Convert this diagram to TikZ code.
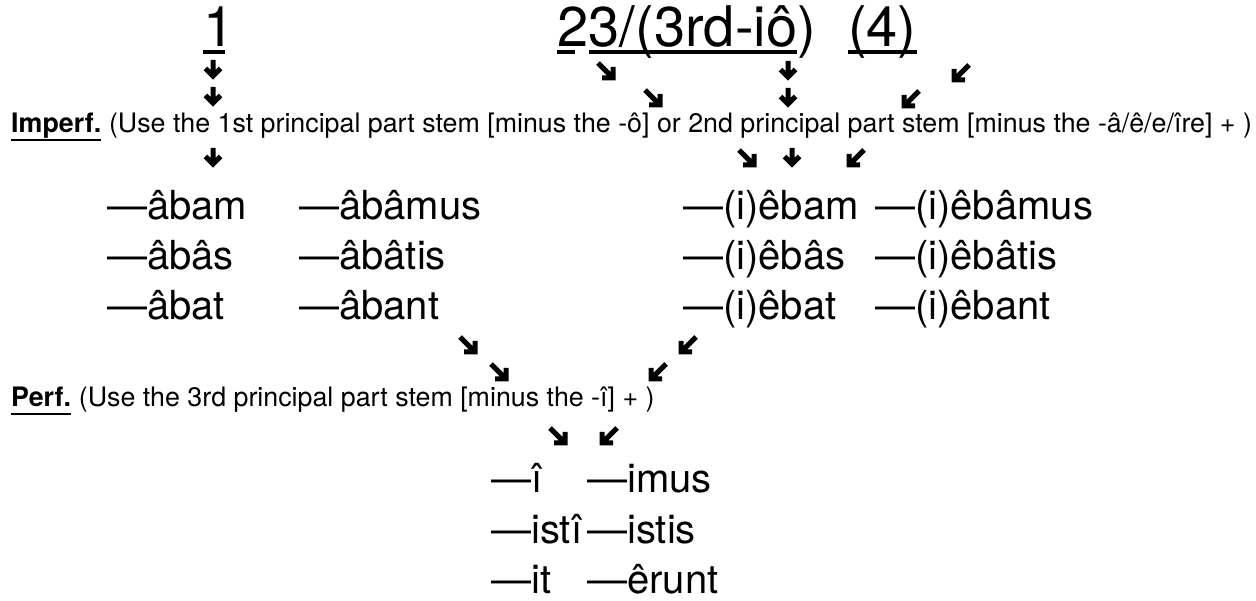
\documentclass[tikz,border=0pt]{standalone}
\usepackage{fontspec}
\setmainfont{TeX Gyre Heros}
\usetikzlibrary{positioning}
\tikzstyle{hbig}=[anchor=base west, inner sep=0pt, font=\fontsize{56}{62}\selectfont]
\tikzstyle{lnote}=[anchor=base west, inner sep=0pt, font=\fontsize{26.8}{32}\selectfont]
\tikzstyle{lbold}=[anchor=base west, inner sep=0pt, font=\fontsize{26.8}{32}\selectfont\bfseries]
\tikzstyle{lend}=[anchor=base west, inner sep=0pt, font=\fontsize{40}{46}\selectfont]
\tikzstyle{uln}=[line width=2.2pt, color=black]
\tikzstyle{huln}=[line width=3.5pt, color=black]
\tikzstyle{barrow}=[line width=5pt, miter limit=4, color=black]
\tikzset{
  pdn/.pic={\draw[style=barrow] (0,-10) -- (0,6) (-7.5,-1.5) -- (0,6) -- (7.5,-1.5);},
  pse/.pic={\draw[style=barrow] (-9,-9) -- (6,6) (6,-5) -- (6,6) -- (-5,6);},
  psw/.pic={\draw[style=barrow] (9,-9) -- (-6,6) (-6,-5) -- (-6,6) -- (5,6);}
}
\def\hbig{\node[style=hbig]}
\def\lnote{\node[style=lnote]}
\def\lbold{\node[style=lbold]}
\def\lend{\node[style=lend]}
\def\uln{\draw[style=uln]}
\def\huln{\draw[style=huln]}

\begin{document}
\begin{tikzpicture}[x=1pt, y=-1pt]
      \useasboundingbox (0,0) rectangle (1256,601);
      % principal parts
      \hbig (Hnode0) at (203,47)            {1};
      \hbig (Hnode1) at (557,47)            {2};
      \hbig (Hnode2) at (Hnode1.base east)  {3/(3rd-iô};
      \hbig (Hnode3) at (Hnode2.base east)  {)};
      \hbig (Hnode4) at (848,47)            {(4)};

      \huln ([yshift=-5pt]Hnode0.base west) -- ([yshift=-5pt,xshift=-10pt]Hnode0.base east);
      \huln ([yshift=-5pt]Hnode1.base west) -- ([yshift=-5pt,xshift=-14pt]Hnode1.base east);
      \huln ([yshift=-5pt]Hnode2.base west) -- ([yshift=-5pt]Hnode2.base east);
      \huln ([yshift=-5pt]Hnode4.base west) -- ([yshift=-5pt]Hnode4.base east);

      \pic (Anode0)  at (213,70)  {pdn};
      \pic (Anode1)  at (607,72)  {pse};
      \pic (Anode2)  at (788,71)  {pdn};
      \pic (Anode3)  at (960,74)  {psw};
      \pic (Anode4)  at (213,97)  {pdn};
      \pic (Anode5)  at (654,99)  {pse};
      \pic (Anode6)  at (788,98)  {pdn};
      \pic (Anode7)  at (910,100) {psw};
      % imperfect
      \lbold (Inode0) at (11,133)           {Imperf.};
      \lnote (Inode1) at (Inode0.base east) {\ (Use the 1st principal part stem [minus the -ô] or 2nd principal part stem [minus the -â/ê/e/îre] + )};
      \uln ([yshift=-7pt]Inode0.base west) -- ([yshift=-7pt]Inode0.base east);

      \pic (Anode8)  at (213,158) {pdn};
      \pic (Anode9)  at (748,159) {pse};
      \pic (Anode10) at (792,158) {pdn};
      \pic (Anode11) at (855,159) {psw};

      \lend (Enode0)  at (107,220) {—âbam};
      \lend (Enode1)  at (107,270) {—âbâs};
      \lend (Enode2)  at (107,320) {—âbat};
      \lend (Enode3)  at (299,220) {—âbâmus};
      \lend (Enode4)  at (299,270) {—âbâtis};
      \lend (Enode5)  at (299,320) {—âbant};
      \lend (Enode6)  at (683,220) {—(i)êbam};
      \lend (Enode7)  at (683,270) {—(i)êbâs};
      \lend (Enode8)  at (683,320) {—(i)êbat};
      \lend (Enode9)  at (875,220) {—(i)êbâmus};
      \lend (Enode10) at (875,270) {—(i)êbâtis};
      \lend (Enode11) at (875,320) {—(i)êbant};

      \pic (Anode12) at (469,346) {pse};
      \pic (Anode13) at (500,373) {pse};
      \pic (Anode14) at (687,346) {psw};
      \pic (Anode15) at (657,373) {psw};
      % perfect
      \lbold (Pnode0) at (11,407)           {Perf.};
      \lnote (Pnode1) at (Pnode0.base east) {\ (Use the 3rd principal part stem [minus the -î] + )};
      \uln ([yshift=-7pt]Pnode0.base west) -- ([yshift=-7pt]Pnode0.base east);

      \pic (Anode16) at (559,437) {pse};
      \pic (Anode17) at (608,437) {psw};

      \lend (Fnode0) at (491,492) {—î};
      \lend (Fnode1) at (491,543) {—istî};
      \lend (Fnode2) at (491,593) {—it};
      \lend (Fnode3) at (587,492) {—imus};
      \lend (Fnode4) at (587,543) {—istis};
      \lend (Fnode5) at (587,593) {—êrunt};

\end{tikzpicture}
\end{document}
